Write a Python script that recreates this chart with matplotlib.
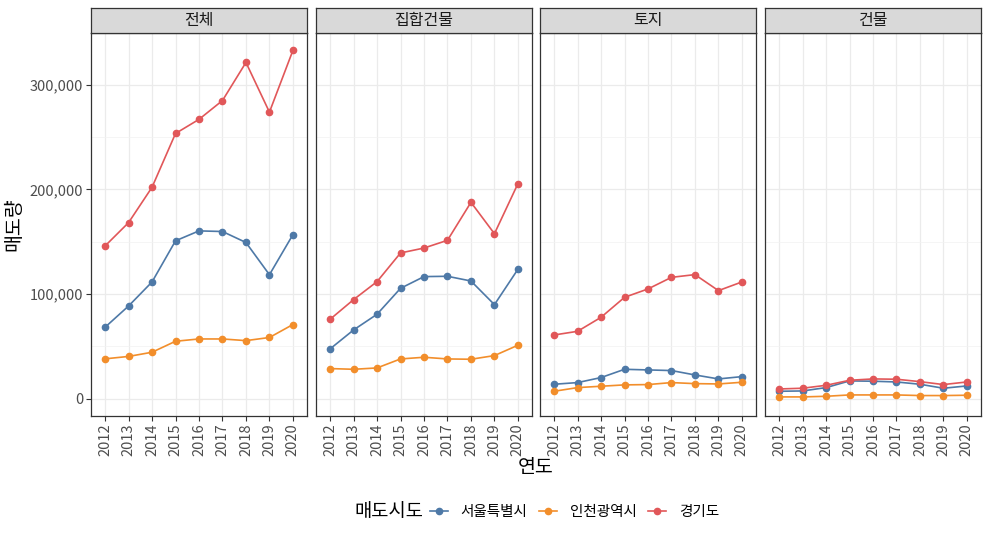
import numpy as np
import matplotlib
matplotlib.use("Agg")
import matplotlib.pyplot as plt
from matplotlib.lines import Line2D
from matplotlib.ticker import FuncFormatter, MultipleLocator

plt.rcParams['font.family'] = ['Noto Sans CJK KR', 'DejaVu Sans']

years = [2012, 2013, 2014, 2015, 2016, 2017, 2018, 2019, 2020]
panels = ['전체', '집합건물', '토지', '건물']
regions = ['서울특별시', '인천광역시', '경기도']
colors = ['#4E79A7', '#F28E2B', '#E15759']

# 매도량 (단위: 건), panel -> region
total_seoul = [68200, 88500, 111500, 150800, 160300, 159700, 149200, 118400, 156700]
total_incheon = [38000, 40300, 44300, 54800, 57000, 57000, 55400, 58400, 70800]
total_gyeonggi = [145900, 168200, 202000, 253400, 266900, 284900, 321300, 273800, 332800]

apt_seoul = [47500, 65600, 80600, 105400, 116600, 116900, 112400, 89800, 123600]
apt_incheon = [28700, 28000, 29300, 37900, 39500, 37900, 37600, 41100, 51000]
apt_gyeonggi = [75800, 94600, 111800, 139200, 143900, 151300, 187600, 157600, 205400]

land_seoul = [13700, 15300, 20100, 28000, 27400, 26800, 22600, 18800, 21000]
land_incheon = [7000, 10500, 11800, 13100, 13400, 15300, 14300, 14000, 15600]
land_gyeonggi = [60800, 64300, 77700, 96800, 104800, 115900, 118500, 103200, 111500]

bldg_seoul = [7000, 7300, 10500, 16900, 16600, 15900, 13700, 9900, 12100]
bldg_incheon = [1600, 1600, 2200, 3500, 3500, 3500, 2900, 2900, 3200]
bldg_gyeonggi = [9200, 9900, 12700, 17500, 18800, 18500, 16200, 13400, 15900]

data = {
    '전체': [total_seoul, total_incheon, total_gyeonggi],
    '집합건물': [apt_seoul, apt_incheon, apt_gyeonggi],
    '토지': [land_seoul, land_incheon, land_gyeonggi],
    '건물': [bldg_seoul, bldg_incheon, bldg_gyeonggi],
}

W, H = 990, 540
fig = plt.figure(figsize=(W / 100, H / 100), dpi=100)

lefts = [91, 316, 540, 765]
pw = 216
top, bottom = 33, 416
strip_h = 25

allv = np.concatenate([np.array(v) for k in data for v in data[k]])
ymin, ymax = 0, allv.max()
pad = (ymax - ymin) * 0.05
pos = np.arange(len(years))

for i, name in enumerate(panels):
    x0 = lefts[i]
    ax = fig.add_axes([x0 / W, (H - bottom) / H, pw / W, (bottom - top) / H])
    ax.set_axisbelow(True)
    for s, c in zip(data[name], colors):
        ax.plot(pos, s, color=c, lw=1.2, marker='o', ms=4.5, zorder=3)
    ax.set_xlim(-0.6, len(years) - 1 + 0.6)
    ax.set_ylim(ymin - pad, ymax + pad)
    ax.set_xticks(pos)
    ax.set_xticklabels([str(y) for y in years], rotation=90)
    ax.yaxis.set_major_locator(MultipleLocator(100000))
    ax.yaxis.set_minor_locator(MultipleLocator(50000))
    ax.yaxis.set_major_formatter(FuncFormatter(lambda v, p: f"{int(v):,}"))
    ax.grid(True, which='major', color='#EBEBEB', lw=0.9)
    ax.grid(True, which='minor', axis='y', color='#F2F2F2', lw=0.5)
    ax.tick_params(which='minor', length=0)
    ax.tick_params(which='major', length=3.5, color='#333333', width=0.8,
                   labelsize=10.5, labelcolor='#4D4D4D', pad=2)
    if i > 0:
        ax.tick_params(axis='y', which='both', left=False, labelleft=False)
    for sp in ax.spines.values():
        sp.set_color('#333333')
        sp.set_linewidth(0.9)

    # facet strip
    sax = fig.add_axes([x0 / W, (H - top) / H, pw / W, strip_h / H])
    sax.set_facecolor('#D9D9D9')
    sax.set_xticks([])
    sax.set_yticks([])
    for sp in sax.spines.values():
        sp.set_color('#333333')
        sp.set_linewidth(0.9)
    sax.text(0.5, 0.5, name, ha='center', va='center', fontsize=11.5,
             color='#1A1A1A', transform=sax.transAxes)

fig.text(536 / W, 1 - 467 / H, '연도', ha='center', va='center', fontsize=14)
fig.text(14 / W, 1 - 224 / H, '매도량', ha='center', va='center',
         fontsize=14, rotation=90)

fig.text(354 / W, 1 - 512 / H, '매도시도', ha='left', va='center', fontsize=13.5)
handles = [Line2D([0], [0], color=c, lw=1.2, marker='o', ms=4.5) for c in colors]
fig.legend(handles, regions, loc='center left', bbox_to_anchor=(430 / W, 1 - 512 / H),
           ncol=3, frameon=False, fontsize=10.5, handlelength=1.2,
           handletextpad=0.9, columnspacing=0.8, borderpad=0, borderaxespad=0)

fig.savefig('out.png', dpi=100, facecolor='white')
